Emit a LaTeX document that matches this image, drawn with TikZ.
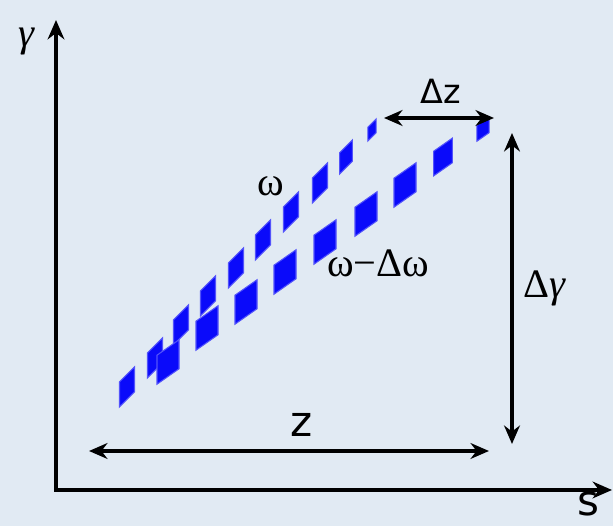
\documentclass[tikz,border=0pt]{standalone}
\usepackage{fontspec}
\setmainfont{Liberation Serif}
\newfontfamily\sansgr{DejaVu Sans}
\usetikzlibrary{arrows.meta, positioning}
\definecolor{mybg}{RGB}{225,234,243}
\definecolor{mybunch}{RGB}{10,10,250}
\tikzset{
	axisline/.style={
			line width=2.1pt,
			-{Stealth[length=11pt,width=9.5pt]}
		},
	dimarrow/.style={
			line width=2.1pt,
			{Stealth[length=10.5pt,width=9pt]}-{Stealth[length=10.5pt,width=9pt]}
		},
	seriflabel/.style={
			inner sep=0pt,
			font=\rmfamily\fontsize{23}{23}\selectfont
		},
	sanslabel/.style={
			inner sep=0pt,
			font=\sansgr\fontsize{19}{19}\selectfont
		},
	bunch/.style={
			fill=mybunch,
			draw=mybunch!70,
			line width=0.6pt
		}
}
% one bunch: centre x, centre y, width, side length, slope
\newcommand{\bunchpath}[5]{%
	\filldraw[bunch] ({#1-#3/2},{#2-#4/2+#5*#3/2}) -- ({#1+#3/2},{#2-#4/2-#5*#3/2})
		-- ({#1+#3/2},{#2+#4/2-#5*#3/2}) -- ({#1-#3/2},{#2+#4/2+#5*#3/2}) -- cycle;%
}
\begin{document}
\begin{tikzpicture}[x=0.02cm, y=-0.02cm]
\fill[mybg] (0,0) rectangle (613,526);
\useasboundingbox (0,0) rectangle (613,526);

% axes
\coordinate (origin) at (56,490);
\coordinate (ytip) at (56,20);
\coordinate (stip) at (612,490);
\draw[axisline] (origin) -- (ytip);
\draw[axisline] ([xshift=-1pt]origin) -- (stip);
\node[seriflabel] (glabel) at (26,42) {\itshape γ};
\node[sanslabel, font=\sansgr\fontsize{24}{24}\selectfont] (slabel) at (588,504) {s};

% bunches at frequency omega
\foreach \x/\y/\k in {127/387/1, 155/358/1, 181/325/1, 208/296/1, 236/268/1,
	263/240/1, 291/212/1, 320/183/1, 346/157/0.85, 372/130/0.55}
	{\bunchpath{\x}{\y}{15*\k}{25*\k}{1.0}}

% bunches at frequency omega - delta omega
\foreach \x/\y/\k in {168/362/1, 207/328/1, 246/302/1, 285/272/1, 325/242/1,
	366/214/1, 405/185/1, 443/157/0.85, 483/129/0.55}
	{\bunchpath{\x}{\y}{22*\k}{29*\k}{0.7}}

\node[seriflabel] (wlabel) at (271,186) {ω};
\node[seriflabel] (dwlabel) at (378,263) {ω−Δω};

% dimension arrows
\coordinate (dzl) at (384,118);
\coordinate (dzr) at (494,118);
\draw[dimarrow] (dzl) -- (dzr);
\node[sanslabel] (dzlabel) at (441,91) {Δz};

\coordinate (dgt) at (512,133);
\coordinate (dgb) at (512,444);
\draw[dimarrow] (dgt) -- (dgb);
\node[seriflabel] (dglabel) at (544,288) {Δ\itshape γ};

\coordinate (zl) at (89,451);
\coordinate (zr) at (489,451);
\draw[dimarrow] (zl) -- (zr);
\node[sanslabel, font=\sansgr\fontsize{24}{24}\selectfont] (zlabel) at (302,425) {z};

\end{tikzpicture}
\end{document}
